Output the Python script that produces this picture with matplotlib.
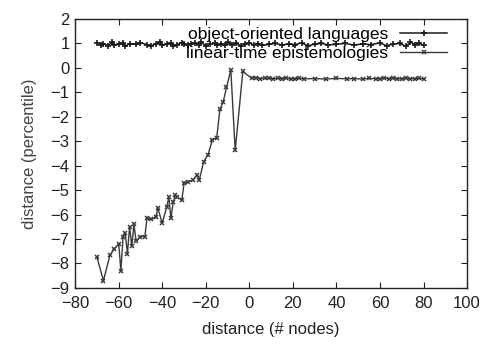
import matplotlib
matplotlib.use("Agg")
import matplotlib.pyplot as plt

plt.rcParams["font.family"] = ["Liberation Sans", "DejaVu Sans"]

# --- data ---
oo_x = [-70, -68, -67, -65, -63, -62, -60, -58, -57, -55, -52, -50, -47, -45,
        -43, -41, -40, -38, -36, -35, -33, -31, -30, -28, -27, -25, -23, -22,
        -20, -18, -16, -15, -13, -11, -10, -8, -6, -4, -2, 0, 2, 4, 6, 9, 12,
        15, 18, 21, 24, 27, 30, 33, 36, 40, 44, 48, 52, 56, 60, 63, 66, 69,
        72, 74, 76, 78, 80]
oo_y = [1.02, 0.95, 0.98, 0.9, 1.05, 0.92, 0.97, 1.0, 0.88, 0.99, 0.96, 1.02,
        0.95, 0.9, 0.98, 1.05, 0.93, 0.97, 1.0, 0.9, 0.95, 1.03, 0.96, 0.92,
        0.99, 1.0, 0.95, 1.04, 0.9, 0.97, 1.0, 0.93, 0.98, 0.92, 1.05, 0.95,
        1.0, 0.9, 0.97, 1.02, 0.94, 0.99, 0.92, 0.96, 1.0, 0.93, 0.98, 0.95,
        1.02, 0.9, 0.97, 1.0, 0.94, 0.96, 1.0, 0.93, 0.98, 0.95, 1.02, 0.9,
        0.97, 1.0, 0.88, 1.05, 0.95, 1.0, 0.92]

lt_x = [-70, -67, -64, -62, -60, -59, -58, -57, -56, -55, -54, -53, -52, -50,
        -48, -47, -45, -43, -42, -40, -38, -37, -36, -35, -34, -33, -31, -30,
        -28, -26, -24, -23, -21, -19, -17, -15, -13.5, -12, -10.5, -8.5, -6.5,
        -3, 1, 3, 5, 7, 9, 11, 13, 15, 17, 19, 21, 23, 25, 30, 35, 40, 45, 48,
        52, 55, 58, 60, 62, 64, 66, 68, 70, 72, 74, 76, 78, 80]
lt_y = [-7.75, -8.7, -7.65, -7.4, -7.2, -8.3, -6.9, -6.75, -7.6, -6.5, -7.3,
        -6.4, -7.1, -6.9, -6.9, -6.15, -6.2, -6.1, -5.75, -6.35, -5.7, -5.3,
        -6.15, -5.5, -5.2, -5.3, -5.4, -4.72, -4.65, -4.6, -4.38, -4.6, -3.84,
        -3.56, -2.95, -2.85, -1.7, -1.4, -0.8, -0.09, -3.38, -0.15, -0.42,
        -0.4, -0.44, -0.43, -0.42, -0.45, -0.43, -0.44, -0.42, -0.46, -0.44,
        -0.43, -0.45, -0.44, -0.46, -0.43, -0.45, -0.44, -0.46, -0.43, -0.45,
        -0.44, -0.42, -0.45, -0.43, -0.44, -0.46, -0.43, -0.45, -0.44, -0.43,
        -0.45]

x_ticks = [-80, -60, -40, -20, 0, 20, 40, 60, 80, 100]
y_ticks = [2, 1, 0, -1, -2, -3, -4, -5, -6, -7, -8, -9]

fig = plt.figure(figsize=(4.85, 3.44), dpi=100)
ax = fig.add_axes([0.155, 0.163, 0.808, 0.782])

ax.plot(oo_x, oo_y, color="#1a1a1a", linewidth=1.1, marker="+",
        markersize=5, markeredgewidth=1.2, label="object-oriented languages")
ax.plot(lt_x, lt_y, color="#3a3a3a", linewidth=1.0, marker="x",
        markersize=3.5, markeredgewidth=1.1, label="linear-time epistemologies")

ax.set_xlim(-80, 100)
ax.set_ylim(-9, 2)
ax.set_xticks(x_ticks)
ax.set_yticks(y_ticks)
ax.tick_params(direction="in", top=True, right=True, length=4,
               labelsize=12, colors="#222222")
ax.tick_params(axis="x", pad=6)
ax.tick_params(axis="y", pad=4)
for s in ax.spines.values():
    s.set_color("#222222")
    s.set_linewidth(1.0)

ax.set_xlabel("distance (# nodes)", fontsize=12, color="#222222", labelpad=8)
ax.set_ylabel("distance (percentile)", fontsize=12, color="#444444", labelpad=10)

ax.legend(loc="upper right", bbox_to_anchor=(0.949, 0.97), frameon=False,
          markerfirst=False, fontsize=12.5, handlelength=2.7, borderpad=0,
          borderaxespad=0, labelspacing=0.2, handletextpad=0.7)

fig.savefig("out.png", dpi=100)
